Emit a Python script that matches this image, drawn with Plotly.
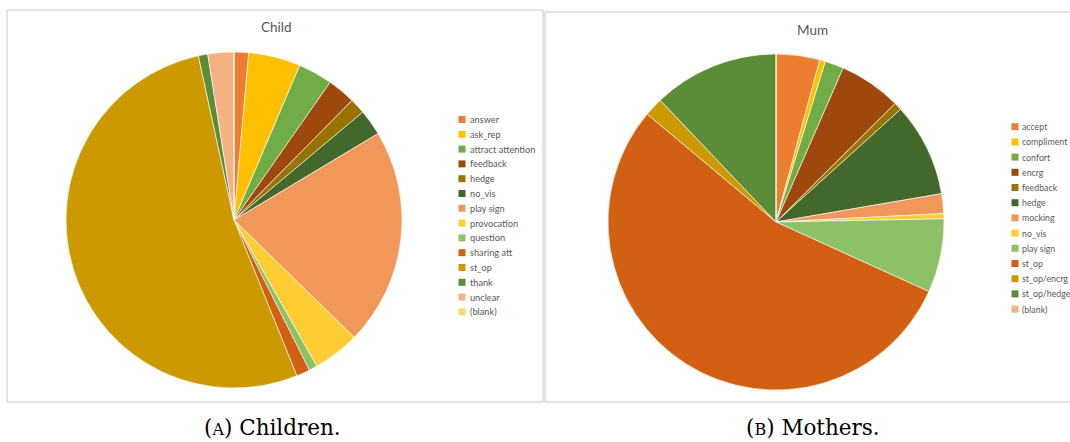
import plotly.graph_objects as go

# Dados (percentuais aproximados)
child_labels = ['answer', 'ask_rep', 'attract attention', 'feedback', 'hedge', 'no_vis',
                'play sign', 'provocation', 'question', 'sharing att', 'st_op', 'thank',
                'unclear', '(blank)']
child_values = [1.4, 5.0, 3.3, 2.7, 1.5, 2.5, 20.9, 4.5, 0.8, 1.3, 52.7, 0.9, 2.5, 0]
child_colors = ['#ED7D31', '#FFC000', '#70AD47', '#9E480E', '#997300', '#43682B',
                '#F1975A', '#FFCD33', '#8CC168', '#D26012', '#CC9A00', '#5B8C38',
                '#F4B183', '#FFD966']

mum_labels = ['accept', 'compliment', 'confort', 'encrg', 'feedback', 'hedge', 'mocking',
              'no_vis', 'play sign', 'st_op', 'st_op/encrg', 'st_op/hedge', '(blank)']
mum_values = [4.2, 0.55, 1.8, 6.0, 0.75, 9.0, 1.9, 0.5, 7.1, 54.3, 1.8, 12.1, 0]
mum_colors = ['#ED7D31', '#FFC000', '#70AD47', '#9E480E', '#997300', '#43682B', '#F1975A',
              '#FFCD33', '#8CC168', '#D26012', '#CC9A00', '#5B8C38', '#F4B183']

W, H = 1070, 442
cinza = '#595959'


def px_x(x):
    return x / W


def px_y(y):
    return 1 - y / H


fig = go.Figure()

# pizza Child: centro (234, 220), raio 168
fig.add_trace(go.Pie(
    labels=child_labels, values=child_values, sort=False, direction='clockwise',
    rotation=0, textinfo='none', hoverinfo='label+percent',
    marker=dict(colors=child_colors, line=dict(color='white', width=0.6)),
    domain=dict(x=[px_x(234 - 168), px_x(234 + 168)], y=[px_y(220 + 168), px_y(220 - 168)]),
    showlegend=False,
))

# pizza Mum: centro (776, 222), raio 168
fig.add_trace(go.Pie(
    labels=mum_labels, values=mum_values, sort=False, direction='clockwise',
    rotation=0, textinfo='none', hoverinfo='label+percent',
    marker=dict(colors=mum_colors, line=dict(color='white', width=0.6)),
    domain=dict(x=[px_x(776 - 168), px_x(776 + 168)], y=[px_y(222 + 168), px_y(222 - 168)]),
    showlegend=False,
))

shapes = []
annotations = []

# molduras
shapes.append(dict(type='rect', xref='paper', yref='paper',
                   x0=px_x(7), x1=px_x(543), y0=px_y(402), y1=px_y(10),
                   line=dict(color='#C8C8C8', width=1)))
shapes.append(dict(type='rect', xref='paper', yref='paper',
                   x0=px_x(545), x1=px_x(1075), y0=px_y(402), y1=px_y(12),
                   line=dict(color='#C8C8C8', width=1)))


def legenda(labels, colors, x_quad, y0, passo, tam, gap):
    for i, (lab, cor) in enumerate(zip(labels, colors)):
        y = y0 + i * passo
        shapes.append(dict(type='rect', xref='paper', yref='paper',
                           x0=px_x(x_quad - 3.5), x1=px_x(x_quad + 3.5),
                           y0=px_y(y + 3.5), y1=px_y(y - 3.5),
                           fillcolor=cor, line=dict(width=0)))
        annotations.append(dict(text=lab, xref='paper', yref='paper',
                                x=px_x(x_quad + gap), y=px_y(y), xanchor='left', yanchor='middle',
                                showarrow=False, font=dict(family='Lato', size=tam, color=cinza)))


legenda(child_labels, child_colors, 462, 119.5, 14.8, 9.2, 5.5)
legenda(mum_labels, mum_colors, 1015, 126.7, 15.2, 8.8, 4.5)

# titulos
annotations.append(dict(text='Child', xref='paper', yref='paper', x=px_x(276), y=px_y(27),
                        xanchor='center', yanchor='middle', showarrow=False,
                        font=dict(family='Lato', size=13.5, color=cinza)))
annotations.append(dict(text='Mum', xref='paper', yref='paper', x=px_x(812), y=px_y(30),
                        xanchor='center', yanchor='middle', showarrow=False,
                        font=dict(family='Lato', size=13.5, color=cinza)))

# legendas das figuras
annotations.append(dict(text="(<span style='font-size:16px'>A</span>) Children.",
                        xref='paper', yref='paper', x=px_x(272.5), y=px_y(427),
                        xanchor='center', yanchor='middle', showarrow=False,
                        font=dict(family='DejaVu Serif', size=21.5, color='black')))
annotations.append(dict(text="(<span style='font-size:16px'>B</span>) Mothers.",
                        xref='paper', yref='paper', x=px_x(813), y=px_y(427),
                        xanchor='center', yanchor='middle', showarrow=False,
                        font=dict(family='DejaVu Serif', size=21.5, color='black')))

fig.update_layout(
    width=W, height=H,
    margin=dict(t=0, b=0, l=0, r=0),
    paper_bgcolor='white',
    plot_bgcolor='white',
    shapes=shapes,
    annotations=annotations,
)

# tira a margem padrao do body para a figura ocupar a janela toda
fig.write_html("out.html", config={'displayModeBar': False},
               post_script="document.body.style.margin='0';document.body.style.overflow='hidden';")
